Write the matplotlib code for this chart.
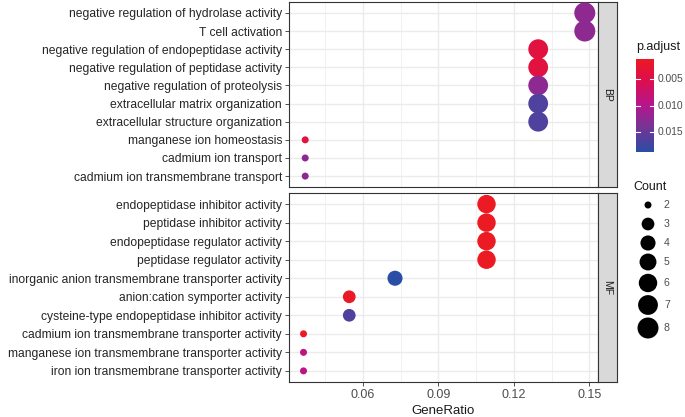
import numpy as np
import matplotlib
matplotlib.use('Agg')
import matplotlib.pyplot as plt
from matplotlib.colors import LinearSegmentedColormap, Normalize

plt.rcParams['font.family'] = ['Liberation Sans', 'DejaVu Sans']

bp_terms = ['negative regulation of hydrolase activity', 'T cell activation',
            'negative regulation of endopeptidase activity',
            'negative regulation of peptidase activity',
            'negative regulation of proteolysis',
            'extracellular matrix organization',
            'extracellular structure organization',
            'manganese ion homeostasis', 'cadmium ion transport',
            'cadmium ion transmembrane transport']
bp_ratio = [8/54, 8/54, 7/54, 7/54, 7/54, 7/54, 7/54, 2/54, 2/54, 2/54]
bp_count = [8, 8, 7, 7, 7, 7, 7, 2, 2, 2]
bp_padj = [0.0125, 0.0125, 0.0040, 0.0040, 0.0125, 0.0165, 0.0165, 0.0040, 0.0125, 0.0125]

mf_terms = ['endopeptidase inhibitor activity', 'peptidase inhibitor activity',
            'endopeptidase regulator activity', 'peptidase regulator activity',
            'inorganic anion transmembrane transporter activity',
            'anion:cation symporter activity',
            'cysteine-type endopeptidase inhibitor activity',
            'cadmium ion transmembrane transporter activity',
            'manganese ion transmembrane transporter activity',
            'iron ion transmembrane transporter activity']
mf_ratio = [6/55, 6/55, 6/55, 6/55, 4/55, 3/55, 3/55, 2/55, 2/55, 2/55]
mf_count = [6, 6, 6, 6, 4, 3, 3, 2, 2, 2]
mf_padj = [0.0011, 0.0011, 0.0011, 0.0011, 0.0188, 0.0015, 0.0165, 0.0015, 0.0090, 0.0090]

x_ticks = [0.06, 0.09, 0.12, 0.15]
cbar_ticks = [0.005, 0.010, 0.015]
legend_counts = [2, 3, 4, 5, 6, 7, 8]

W, H = 685, 417
fig = plt.figure(figsize=(W / 100, H / 100), dpi=100)


def px_axes(x0, y0, x1, y1):
    # pixel box (top-left origin) -> figure axes
    return fig.add_axes([x0 / W, 1 - y1 / H, (x1 - x0) / W, (y1 - y0) / H])


cmap = LinearSegmentedColormap.from_list(
    'padj', [(0.0, '#EC1A22'), (0.22, '#DE0F4B'), (0.5, '#B5168F'),
             (0.72, '#7A3394'), (1.0, '#2A4DA6')])
all_p = bp_padj + mf_padj
norm = Normalize(vmin=min(all_p), vmax=max(all_p))
cmin, cmax = min(bp_count + mf_count), max(bp_count + mf_count)


def size_of(c):
    d_px = 7 + 14 * np.sqrt((np.asarray(c, float) - cmin) / (cmax - cmin))
    return (d_px * 0.72) ** 2


grid_col = '#EBEBEB'
text_col = '#4D4D4D'
xlim = (0.0306, 0.1534)

panels = [(bp_terms, bp_ratio, bp_count, bp_padj, 'BP', 2, 187),
          (mf_terms, mf_ratio, mf_count, mf_padj, 'MF', 193, 382)]
for terms, ratio, count, padj, lab, y0, y1 in panels:
    ax = px_axes(289, y0, 598, y1)
    n = len(terms)
    ypos = np.arange(n)[::-1]
    ax.scatter(ratio, ypos, s=size_of(count), c=padj, cmap=cmap, norm=norm,
               edgecolors='none', zorder=3)
    ax.set_xlim(*xlim)
    ax.set_ylim(-0.6, n - 1 + 0.6)
    ax.set_yticks(ypos)
    ax.set_yticklabels(terms, fontsize=8.75, color='#262626')
    ax.set_xticks(x_ticks)
    ax.set_xticks([0.045, 0.075, 0.105, 0.135], minor=True)
    ax.grid(True, which='major', color=grid_col, linewidth=1.0, zorder=0)
    ax.grid(True, which='minor', axis='x', color=grid_col, linewidth=0.5, zorder=0)
    ax.set_axisbelow(True)
    ax.tick_params(axis='both', length=3, width=0.6, color='#333333', pad=2)
    ax.tick_params(axis='x', which='minor', length=0)
    for sp in ax.spines.values():
        sp.set_color('#333333')
        sp.set_linewidth(0.8)
    if lab == 'BP':
        ax.tick_params(axis='x', labelbottom=False, length=0)
    else:
        ax.set_xticklabels(['%.2f' % t for t in x_ticks], fontsize=9, color=text_col)
        ax.set_xlabel('GeneRatio', fontsize=9.5, color='#1A1A1A', labelpad=3)
    # facet strip
    st = px_axes(598, y0, 617, y1)
    st.set_facecolor('#D9D9D9')
    st.set_xticks([])
    st.set_yticks([])
    for sp in st.spines.values():
        sp.set_color('#333333')
        sp.set_linewidth(0.8)
    st.text(0.5, 0.5, lab, rotation=-90, ha='center', va='center',
            fontsize=7.5, color='#1A1A1A', transform=st.transAxes)

# colour bar legend
fig.text(636 / W, 1 - 47 / H, 'p.adjust', fontsize=9, color='#1A1A1A',
         ha='left', va='center')
cax = px_axes(636, 59, 654, 152)
grad = np.linspace(norm.vmin, norm.vmax, 256).reshape(-1, 1)
cax.imshow(grad, aspect='auto', cmap=cmap, norm=norm, origin='upper',
           extent=[0, 1, norm.vmax, norm.vmin])
cax.set_xlim(0, 1)
cax.set_ylim(norm.vmax, norm.vmin)
cax.set_xticks([])
cax.set_yticks([])
for sp in cax.spines.values():
    sp.set_visible(False)
for t in cbar_ticks:
    cax.plot([0, 0.2], [t, t], color='white', linewidth=0.8)
    cax.plot([0.8, 1], [t, t], color='white', linewidth=0.8)
    cax.text(1.2, t, '%.3f' % t, fontsize=7.4, color=text_col, va='center',
             ha='left', transform=cax.get_yaxis_transform())

# size legend
fig.text(633 / W, 1 - 187 / H, 'Count', fontsize=9, color='#1A1A1A',
         ha='left', va='center')
lax = px_axes(625, 195, 685, 340)
lax.set_xlim(625, 685)
lax.set_ylim(340, 195)
lax.axis('off')
key_y = [205, 224, 243, 262, 283, 305, 328]
lax.scatter([648] * len(legend_counts), key_y, s=size_of(legend_counts),
            color='black', edgecolors='none', clip_on=False)
for c, yk in zip(legend_counts, key_y):
    lax.text(664, yk, str(c), fontsize=7.6, color=text_col, va='center', ha='left')

fig.savefig('out.png', dpi=100)
